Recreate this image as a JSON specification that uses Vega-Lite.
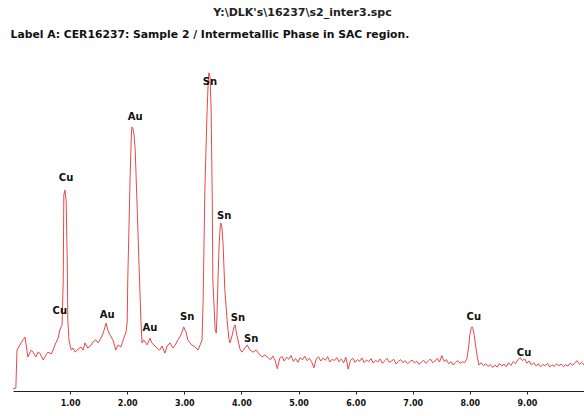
{
  "$schema": "https://vega.github.io/schema/vega-lite/v6.json",
  "width": 571,
  "height": 341,
  "autosize": {"type": "none"},
  "padding": {"left": 13, "top": 50, "right": 0, "bottom": 25},
  "background": "white",
  "title": {
    "text": "Y:\\DLK's\\16237\\s2_inter3.spc",
    "anchor": "middle",
    "frame": "group",
    "dx": 4,
    "offset": 10,
    "font": "DejaVu Sans",
    "fontSize": 11,
    "fontWeight": "bold",
    "color": "#222222"
  },
  "config": {
    "view": {"stroke": null},
    "axis": {"grid": false}
  },
  "datasets": {
    "spectrum": [
      {"e": 0.0, "c": 0.6}, {"e": 0.05, "c": 0.9}, {"e": 0.07, "c": 12}, {"e": 0.12, "c": 13.5}, {"e": 0.175, "c": 15}, {"e": 0.21, "c": 15.8},
      {"e": 0.26, "c": 10}, {"e": 0.32, "c": 12}, {"e": 0.35, "c": 11.4}, {"e": 0.40, "c": 10}, {"e": 0.44, "c": 11.4}, {"e": 0.47, "c": 11.1},
      {"e": 0.53, "c": 9.1}, {"e": 0.58, "c": 10.6}, {"e": 0.61, "c": 11.4}, {"e": 0.67, "c": 10.9}, {"e": 0.70, "c": 12}, {"e": 0.75, "c": 14.1},
      {"e": 0.79, "c": 15.5}, {"e": 0.82, "c": 17.9}, {"e": 0.86, "c": 19.4}, {"e": 0.88, "c": 32.6}, {"e": 0.89, "c": 57.5}, {"e": 0.91, "c": 58.9},
      {"e": 0.93, "c": 56}, {"e": 0.95, "c": 38.4}, {"e": 0.96, "c": 20.8}, {"e": 0.98, "c": 15}, {"e": 1.02, "c": 12}, {"e": 1.05, "c": 12.6},
      {"e": 1.09, "c": 11.4}, {"e": 1.14, "c": 12.3}, {"e": 1.19, "c": 12.9}, {"e": 1.23, "c": 12}, {"e": 1.26, "c": 14.1}, {"e": 1.31, "c": 12.6},
      {"e": 1.37, "c": 13.5}, {"e": 1.40, "c": 14.4}, {"e": 1.45, "c": 15}, {"e": 1.49, "c": 14.1}, {"e": 1.54, "c": 15.5}, {"e": 1.58, "c": 17},
      {"e": 1.63, "c": 19.9}, {"e": 1.66, "c": 17.9}, {"e": 1.70, "c": 16.4}, {"e": 1.75, "c": 15}, {"e": 1.80, "c": 12}, {"e": 1.84, "c": 13.5},
      {"e": 1.89, "c": 12.9}, {"e": 1.93, "c": 15}, {"e": 1.98, "c": 17.3}, {"e": 2.00, "c": 20.2}, {"e": 2.01, "c": 32.6}, {"e": 2.05, "c": 61.9},
      {"e": 2.07, "c": 73.6}, {"e": 2.08, "c": 77.4}, {"e": 2.10, "c": 77.1}, {"e": 2.12, "c": 75.1}, {"e": 2.14, "c": 70.7}, {"e": 2.17, "c": 56},
      {"e": 2.21, "c": 35.5}, {"e": 2.24, "c": 20.8}, {"e": 2.26, "c": 14.1}, {"e": 2.29, "c": 15}, {"e": 2.35, "c": 13.5}, {"e": 2.40, "c": 15.5},
      {"e": 2.43, "c": 14.1}, {"e": 2.47, "c": 13.5}, {"e": 2.52, "c": 12.6}, {"e": 2.57, "c": 12}, {"e": 2.61, "c": 13.2}, {"e": 2.66, "c": 11.1},
      {"e": 2.70, "c": 13.2}, {"e": 2.75, "c": 14.1}, {"e": 2.80, "c": 12.6}, {"e": 2.84, "c": 13.5}, {"e": 2.89, "c": 15}, {"e": 2.94, "c": 16.4},
      {"e": 2.99, "c": 18.8}, {"e": 3.03, "c": 17.3}, {"e": 3.06, "c": 15}, {"e": 3.10, "c": 14.1}, {"e": 3.13, "c": 13.5}, {"e": 3.19, "c": 12.9},
      {"e": 3.24, "c": 12}, {"e": 3.27, "c": 13.2}, {"e": 3.31, "c": 15}, {"e": 3.33, "c": 26.7}, {"e": 3.36, "c": 58.9}, {"e": 3.40, "c": 82.4},
      {"e": 3.42, "c": 91.2}, {"e": 3.43, "c": 93.3}, {"e": 3.45, "c": 92.4}, {"e": 3.47, "c": 82.4}, {"e": 3.49, "c": 56}, {"e": 3.50, "c": 32.6},
      {"e": 3.54, "c": 17.9}, {"e": 3.56, "c": 17}, {"e": 3.57, "c": 20.8}, {"e": 3.59, "c": 32.6}, {"e": 3.61, "c": 42.8}, {"e": 3.63, "c": 48.4},
      {"e": 3.64, "c": 49.3}, {"e": 3.66, "c": 47.8}, {"e": 3.68, "c": 42.8}, {"e": 3.71, "c": 29.6}, {"e": 3.75, "c": 20.8}, {"e": 3.78, "c": 15.5},
      {"e": 3.80, "c": 14.1}, {"e": 3.84, "c": 16.4}, {"e": 3.87, "c": 18.8}, {"e": 3.89, "c": 19.4}, {"e": 3.92, "c": 16.4}, {"e": 3.98, "c": 12},
      {"e": 4.01, "c": 11.4}, {"e": 4.06, "c": 12.6}, {"e": 4.10, "c": 13.5}, {"e": 4.15, "c": 12}, {"e": 4.20, "c": 11.4}, {"e": 4.26, "c": 12},
      {"e": 4.31, "c": 10.9}, {"e": 4.36, "c": 10}, {"e": 4.41, "c": 10.6}, {"e": 4.47, "c": 9.7},
      {"e": 4.51, "c": 9.2}, {"e": 4.55, "c": 10.3}, {"e": 4.59, "c": 9.0}, {"e": 4.63, "c": 6.5}, {"e": 4.67, "c": 9.6}, {"e": 4.71, "c": 10.1},
      {"e": 4.75, "c": 8.8}, {"e": 4.79, "c": 9.9}, {"e": 4.83, "c": 9.3}, {"e": 4.87, "c": 10.4}, {"e": 4.91, "c": 8.7}, {"e": 4.95, "c": 9.5},
      {"e": 4.99, "c": 8.4}, {"e": 5.03, "c": 9.8}, {"e": 5.07, "c": 9.1}, {"e": 5.11, "c": 10.2}, {"e": 5.15, "c": 8.9}, {"e": 5.19, "c": 9.6},
      {"e": 5.23, "c": 8.6}, {"e": 5.27, "c": 6.8}, {"e": 5.31, "c": 9.4}, {"e": 5.35, "c": 10.0}, {"e": 5.39, "c": 8.8}, {"e": 5.43, "c": 9.7},
      {"e": 5.47, "c": 9.0}, {"e": 5.51, "c": 10.1}, {"e": 5.55, "c": 8.5}, {"e": 5.59, "c": 9.3}, {"e": 5.63, "c": 8.9}, {"e": 5.67, "c": 9.8},
      {"e": 5.71, "c": 8.6}, {"e": 5.75, "c": 9.4}, {"e": 5.79, "c": 8.3}, {"e": 5.83, "c": 9.9}, {"e": 5.87, "c": 6.4}, {"e": 5.91, "c": 9.0},
      {"e": 5.95, "c": 9.6}, {"e": 5.99, "c": 8.4}, {"e": 6.03, "c": 9.2}, {"e": 6.07, "c": 8.7}, {"e": 6.11, "c": 9.7}, {"e": 6.15, "c": 8.3},
      {"e": 6.19, "c": 9.1}, {"e": 6.23, "c": 8.6}, {"e": 6.27, "c": 9.5}, {"e": 6.31, "c": 8.2}, {"e": 6.35, "c": 9.0}, {"e": 6.39, "c": 8.5},
      {"e": 6.43, "c": 9.4}, {"e": 6.47, "c": 8.1}, {"e": 6.51, "c": 8.9}, {"e": 6.55, "c": 9.6}, {"e": 6.59, "c": 8.4}, {"e": 6.63, "c": 8.8},
      {"e": 6.67, "c": 9.3}, {"e": 6.71, "c": 7.9}, {"e": 6.75, "c": 8.7}, {"e": 6.79, "c": 9.2}, {"e": 6.83, "c": 8.3}, {"e": 6.87, "c": 8.9},
      {"e": 6.91, "c": 8.0}, {"e": 6.95, "c": 8.6}, {"e": 6.99, "c": 9.1}, {"e": 7.03, "c": 8.2}, {"e": 7.07, "c": 8.8}, {"e": 7.11, "c": 7.8},
      {"e": 7.15, "c": 8.5}, {"e": 7.19, "c": 9.0}, {"e": 7.23, "c": 8.1}, {"e": 7.27, "c": 8.7}, {"e": 7.31, "c": 9.4}, {"e": 7.35, "c": 8.3},
      {"e": 7.39, "c": 8.8}, {"e": 7.43, "c": 9.6}, {"e": 7.47, "c": 8.5}, {"e": 7.51, "c": 10.4}, {"e": 7.55, "c": 8.7}, {"e": 7.59, "c": 9.2},
      {"e": 7.63, "c": 8.0}, {"e": 7.67, "c": 8.6}, {"e": 7.71, "c": 7.6}, {"e": 7.75, "c": 8.4}, {"e": 7.79, "c": 8.9}, {"e": 7.83, "c": 8.1},
      {"e": 7.87, "c": 8.6}, {"e": 7.91, "c": 8.3}, {"e": 7.95, "c": 9.5}, {"e": 7.98, "c": 13}, {"e": 8.00, "c": 16.4}, {"e": 8.02, "c": 18.2},
      {"e": 8.04, "c": 18.8}, {"e": 8.06, "c": 18.0}, {"e": 8.08, "c": 16.2}, {"e": 8.10, "c": 13.5}, {"e": 8.13, "c": 10.2}, {"e": 8.16, "c": 7.6},
      {"e": 8.20, "c": 8.3}, {"e": 8.24, "c": 7.4}, {"e": 8.28, "c": 8.0}, {"e": 8.32, "c": 7.2}, {"e": 8.36, "c": 7.8}, {"e": 8.40, "c": 6.9},
      {"e": 8.44, "c": 7.6}, {"e": 8.48, "c": 7.0}, {"e": 8.52, "c": 8.1}, {"e": 8.56, "c": 7.3}, {"e": 8.60, "c": 7.9}, {"e": 8.64, "c": 7.1},
      {"e": 8.68, "c": 8.3}, {"e": 8.72, "c": 7.5}, {"e": 8.76, "c": 8.6}, {"e": 8.80, "c": 8.0}, {"e": 8.84, "c": 9.1}, {"e": 8.88, "c": 9.8},
      {"e": 8.92, "c": 8.9}, {"e": 8.96, "c": 9.4}, {"e": 9.00, "c": 8.2}, {"e": 9.04, "c": 8.8}, {"e": 9.08, "c": 7.6}, {"e": 9.12, "c": 8.3},
      {"e": 9.16, "c": 7.3}, {"e": 9.20, "c": 8.0}, {"e": 9.24, "c": 7.1}, {"e": 9.28, "c": 7.8}, {"e": 9.32, "c": 7.4}, {"e": 9.36, "c": 8.1},
      {"e": 9.40, "c": 7.0}, {"e": 9.44, "c": 7.7}, {"e": 9.48, "c": 7.2}, {"e": 9.52, "c": 8.0}, {"e": 9.56, "c": 7.4}, {"e": 9.60, "c": 7.9},
      {"e": 9.64, "c": 7.1}, {"e": 9.68, "c": 7.7}, {"e": 9.72, "c": 7.3}, {"e": 9.76, "c": 8.2}, {"e": 9.80, "c": 7.5}, {"e": 9.84, "c": 8.3},
      {"e": 9.88, "c": 8.9}, {"e": 9.92, "c": 7.8}, {"e": 9.96, "c": 8.4}, {"e": 10.0, "c": 7.6}
    ],
    "labels": [
      {"e": 0.93, "c": 62.5, "t": "Cu"},
      {"e": 0.82, "c": 23.5, "t": "Cu"},
      {"e": 2.14, "c": 80.4, "t": "Au"},
      {"e": 1.65, "c": 22.3, "t": "Au"},
      {"e": 2.40, "c": 18.5, "t": "Au"},
      {"e": 3.45, "c": 90.6, "t": "Sn"},
      {"e": 3.70, "c": 51.3, "t": "Sn"},
      {"e": 3.05, "c": 21.7, "t": "Sn"},
      {"e": 3.94, "c": 21.4, "t": "Sn"},
      {"e": 4.17, "c": 15.2, "t": "Sn"},
      {"e": 8.07, "c": 21.7, "t": "Cu"},
      {"e": 8.95, "c": 11.1, "t": "Cu"}
    ]
  },
  "encoding": {
    "x": {
      "field": "e",
      "type": "quantitative",
      "scale": {"domain": [0, 10], "nice": false, "zero": false},
      "axis": {
        "title": null,
        "values": [1, 2, 3, 4, 5, 6, 7, 8, 9],
        "format": ".2f",
        "domainColor": "#222222",
        "tickColor": "#222222",
        "tickSize": 3,
        "labelPadding": 5,
        "labelFont": "DejaVu Sans",
        "labelFontSize": 8,
        "labelFontWeight": "bold",
        "labelColor": "#111111"
      }
    },
    "y": {
      "field": "c",
      "type": "quantitative",
      "scale": {"domain": [0, 100], "nice": false},
      "axis": {
        "title": "Label A: CER16237: Sample 2 / Intermetallic Phase in SAC region.",
        "titleAngle": 0,
        "titleAlign": "left",
        "titleBaseline": "alphabetic",
        "titleX": -3,
        "titleY": -13,
        "titleFont": "DejaVu Sans",
        "titleFontSize": 10.8,
        "titleFontWeight": "bold",
        "titleColor": "#111111",
        "labels": false,
        "ticks": false,
        "domain": false
      }
    }
  },
  "layer": [
    {
      "data": {"name": "spectrum"},
      "mark": {"type": "line", "color": "#e8474a", "strokeWidth": 1, "clip": true}
    },
    {
      "data": {"name": "labels"},
      "mark": {"type": "text", "font": "DejaVu Sans", "fontSize": 10, "fontWeight": "bold", "color": "#111111", "baseline": "middle", "align": "center"},
      "encoding": {"text": {"field": "t"}}
    }
  ]
}
